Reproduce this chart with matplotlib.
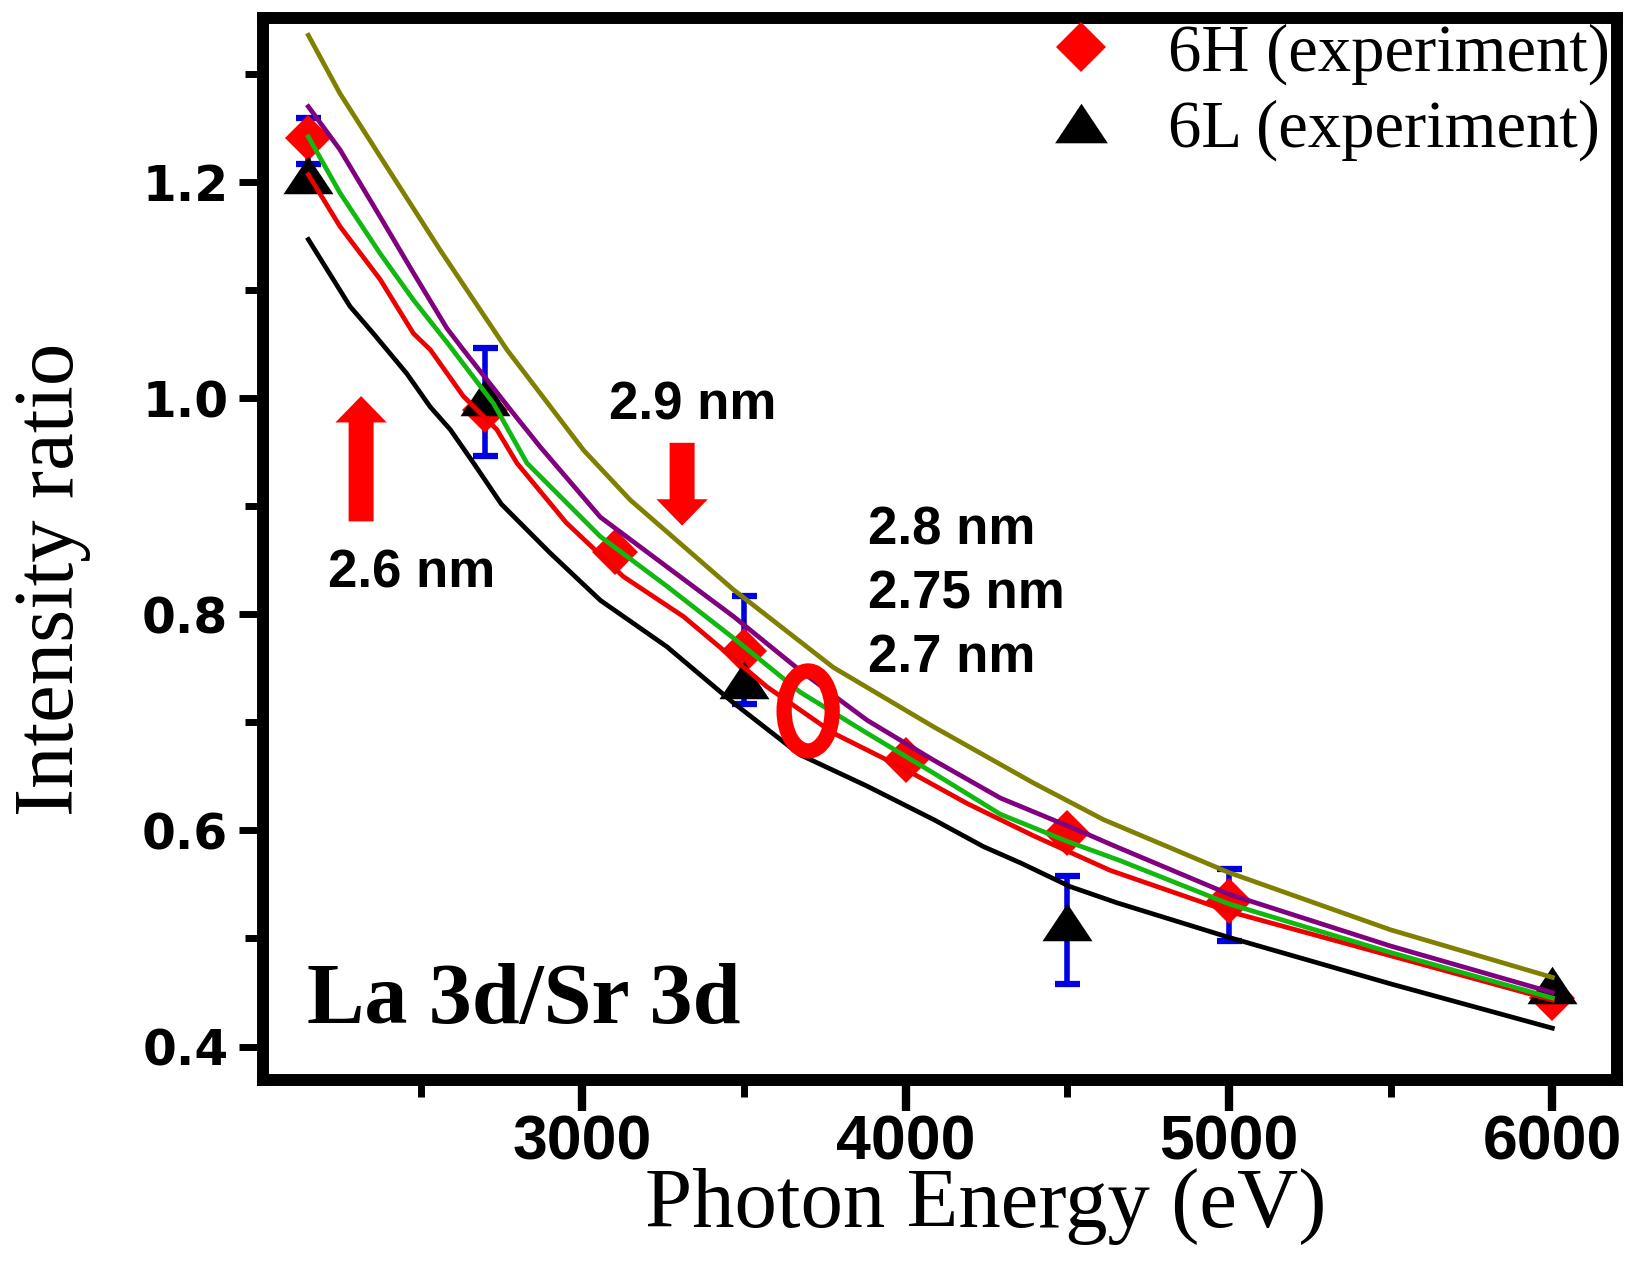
import matplotlib.pyplot as plt
from matplotlib.patches import Ellipse, ArrowStyle
from matplotlib.lines import Line2D
from matplotlib.ticker import FixedLocator

# simulated curves, one per overlayer thickness
e_29 = [2153, 2251, 2396, 2561, 2767, 3004, 3148, 3467, 3776, 4086, 4395, 4612, 5000, 5500, 6000]
r_29 = [1.336, 1.282, 1.214, 1.137, 1.045, 0.952, 0.906, 0.823, 0.751, 0.696, 0.644, 0.610, 0.561, 0.508, 0.464]

e_28 = [2153, 2251, 2375, 2478, 2581, 2632, 2787, 2870, 3056, 3262, 3468, 3674, 3881, 4087, 4293, 4551, 4643, 5000, 5500, 6000]
r_28 = [1.270, 1.230, 1.168, 1.116, 1.065, 1.045, 0.986, 0.955, 0.890, 0.844, 0.798, 0.748, 0.702, 0.665, 0.630, 0.598, 0.586, 0.541, 0.493, 0.450]

e_275 = [2153, 2251, 2375, 2478, 2581, 2726, 2829, 3056, 3262, 3468, 3674, 3881, 4087, 4293, 4499, 4664, 5000, 5500, 6000]
r_275 = [1.242, 1.190, 1.134, 1.091, 1.052, 0.995, 0.940, 0.872, 0.826, 0.778, 0.728, 0.690, 0.653, 0.615, 0.590, 0.572, 0.532, 0.487, 0.445]

e_27 = [2153, 2251, 2375, 2478, 2530, 2632, 2736, 2798, 2950, 3127, 3313, 3571, 3777, 3984, 4190, 4396, 4633, 5000, 5500, 6000]
r_27 = [1.207, 1.159, 1.110, 1.060, 1.045, 1.002, 0.971, 0.940, 0.885, 0.835, 0.798, 0.733, 0.690, 0.659, 0.625, 0.595, 0.563, 0.525, 0.484, 0.443]

e_26 = [2153, 2282, 2354, 2457, 2530, 2592, 2664, 2750, 2900, 3056, 3262, 3468, 3674, 3881, 4087, 4241, 4355, 4509, 4654, 5000, 5500, 6000]
r_26 = [1.147, 1.085, 1.060, 1.023, 0.992, 0.971, 0.940, 0.902, 0.857, 0.813, 0.770, 0.718, 0.670, 0.641, 0.610, 0.585, 0.570, 0.548, 0.533, 0.501, 0.458, 0.417]

# experiment
e_6h = [2153, 2700, 3100, 3500, 4000, 4500, 5000, 6000]
r_6h = [1.241, 0.989, 0.858, 0.766, 0.665, 0.598, 0.535, 0.445]
e_6l = [2153, 2700, 3500, 4500, 6000]
r_6l = [1.207, 1.001, 0.739, 0.515, 0.457]

# error bars (x, centre, half-width)
err_x = [2153, 2700, 3500, 4500, 5000]
err_y = [1.238, 0.997, 0.767, 0.508, 0.531]
err_d = [0.021, 0.050, 0.050, 0.050, 0.033]

fig = plt.figure(figsize=(16.33, 12.76), dpi=100)
ax = fig.add_axes([0.1611, 0.1536, 0.8291, 0.8323])

tri = [(-1, -0.75), (1, -0.75), (0, 0.75)]

ax.errorbar(err_x, err_y, yerr=err_d, fmt='none', ecolor='#0000e0',
            elinewidth=4, capsize=9, capthick=4.5, zorder=2)
ax.plot(e_6h, r_6h, linestyle='none', marker='D', markersize=23,
        color='#ff0000', markeredgewidth=0, zorder=3)
ax.plot(e_6l, r_6l, linestyle='none', marker=tri, markersize=36,
        color='black', markeredgewidth=0, zorder=4)

lw = 3.4
ax.plot(e_29, r_29, color='#808000', lw=lw, zorder=5)
ax.plot(e_28, r_28, color='#800080', lw=lw, zorder=5)
ax.plot(e_275, r_275, color='#10b810', lw=lw, zorder=6)
ax.plot(e_27, r_27, color='#ee0000', lw=lw, zorder=5)
ax.plot(e_26, r_26, color='black', lw=lw, zorder=5)

ax.set_xlim(2013, 6200)
ax.set_ylim(0.369, 1.352)

ax.xaxis.set_major_locator(FixedLocator([3000, 4000, 5000, 6000]))
ax.xaxis.set_minor_locator(FixedLocator([2500, 3500, 4500, 5500]))
ax.yaxis.set_major_locator(FixedLocator([0.4, 0.6, 0.8, 1.0, 1.2]))
ax.yaxis.set_minor_locator(FixedLocator([0.5, 0.7, 0.9, 1.1, 1.3]))
ax.set_yticklabels(['0.4', '0.6', '0.8', '1.0', '1.2'])

for s in ax.spines.values():
    s.set_linewidth(8.6)
ax.tick_params(axis='x', which='major', length=22, width=6, pad=2)
ax.tick_params(axis='x', which='minor', length=12, width=5)
ax.tick_params(axis='y', which='major', length=17, width=5, pad=8)
ax.tick_params(axis='y', which='minor', length=13, width=5)

for t in ax.get_xticklabels():
    t.set_fontfamily(['Liberation Sans Narrow', 'Liberation Sans'])
    t.set_fontweight('bold')
    t.set_fontsize(45)
for t in ax.get_yticklabels():
    t.set_fontfamily('DejaVu Sans')
    t.set_fontweight('bold')
    t.set_fontsize(35)

ax.set_xlabel('Photon Energy (eV)', fontsize=61, family='Liberation Serif')
ax.set_ylabel('Intensity ratio', fontsize=61, family='Liberation Serif')
ax.xaxis.set_label_coords(0.534, -0.083)
ax.yaxis.set_label_coords(-0.127, 0.471)

# legend
h6 = Line2D([], [], linestyle='none', marker='D', markersize=25, color='#ff0000', markeredgewidth=0)
l6 = Line2D([], [], linestyle='none', marker=tri, markersize=38, color='black', markeredgewidth=0)
ax.legend([h6, l6], ['6H (experiment)', '6L (experiment)'], loc='upper left',
          bbox_to_anchor=(0.582, 0.995), frameon=False,
          prop={'family': 'Liberation Serif', 'size': 48},
          handlelength=0.9, handletextpad=0.85, labelspacing=0.22,
          borderpad=0, borderaxespad=0)

# annotations
bold = dict(family='Liberation Sans', weight='bold', fontsize=38, transform=ax.transAxes)
ax.text(0.3176, 0.6347, '2.9 nm', ha='center', va='center', **bold)
ax.text(0.110, 0.4774, '2.6 nm', ha='center', va='center', **bold)
ax.text(0.4468, 0.517, '2.8 nm', ha='left', va='center', **bold)
ax.text(0.4468, 0.4567, '2.75 nm', ha='left', va='center', **bold)
ax.text(0.4468, 0.3974, '2.7 nm', ha='left', va='center', **bold)
ax.text(0.0325, 0.0537, 'La 3d/Sr 3d', ha='left', va='baseline',
        family='Liberation Serif', weight='bold', fontsize=62, transform=ax.transAxes)

arrow = ArrowStyle('simple', head_length=19, head_width=37, tail_width=18)
ax.annotate('', xy=(0.0724, 0.644), xytext=(0.0724, 0.526), xycoords='axes fraction',
            arrowprops=dict(arrowstyle=arrow, mutation_scale=1, fc='red', ec='none',
                            shrinkA=0, shrinkB=0))
ax.annotate('', xy=(0.3095, 0.522), xytext=(0.3095, 0.600), xycoords='axes fraction',
            arrowprops=dict(arrowstyle=arrow, mutation_scale=1, fc='red', ec='none',
                            shrinkA=0, shrinkB=0))

ax.add_patch(Ellipse((0.4026, 0.3475), 0.0355, 0.0753, transform=ax.transAxes,
                     fill=False, ec='red', lw=11, zorder=7))

fig.savefig('out.png', dpi=100)
